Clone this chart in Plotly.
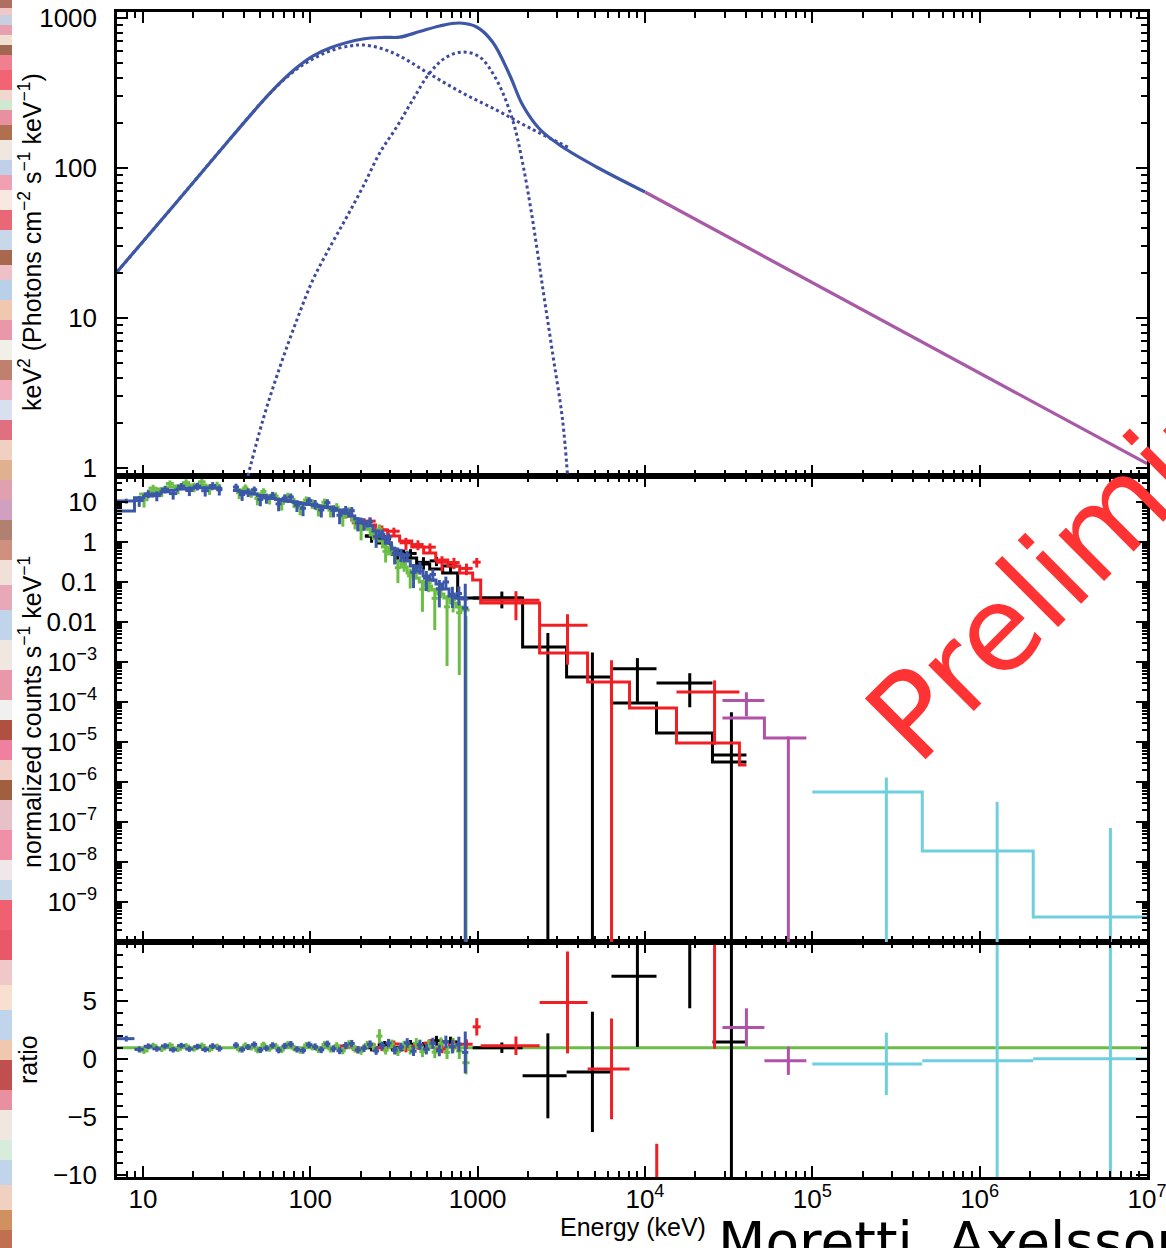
import plotly.graph_objects as go

FONT = "Liberation Sans, Arial, Helvetica, sans-serif"

# ---------------- Panel 1: unfolded model, keV^2 N(E) ----------------
TOTAL_E = [7, 14.5, 33.1, 52.1, 65.8, 83.1, 103.5, 131, 206, 279, 342, 451, 593, 781, 987, 1229, 1554, 1857, 2346, 3218, 5136, 10000]
TOTAL_F = [20.3, 52.5, 156, 280, 369, 468, 558, 631, 724, 743, 745, 812, 885, 926, 871, 692, 417, 263, 182, 138, 101.6, 69.2]
TAIL_E = [10000, 1.0e7]
TAIL_F = [69.2, 1.07]
BAND_E = [7, 14.5, 33.1, 52.1, 65.8, 83.1, 103.5, 131, 172, 206, 260, 342, 517, 814, 1299, 2045, 3544]
BAND_F = [20.3, 52.5, 156, 280, 366, 457, 533, 603, 651, 661, 631, 558, 423, 316, 243, 185, 136]
BB_E = [42.4, 52.1, 65.8, 83.1, 103.5, 131, 165, 206, 260, 328.6, 409, 517, 653, 814, 1028, 1299, 1619, 1857, 2131, 2445, 2805, 3218, 3447]
BB_F = [0.885, 2.09, 4.71, 9.70, 17.9, 29.7, 47.1, 74.7, 126, 188, 284, 430, 550, 593, 550, 386, 209, 108, 45.0, 16.1, 5.84, 2.09, 0.885]

# ---------------- Detector data (bin edges keV, model counts, data/model ratio, ratio error) -------------
# NaI (blue)
BLUE_EDGES_A = [7.0, 8.9, 10.1, 11.4, 12.8, 14.3, 16.0, 17.9, 20.0, 22.3, 24.8, 27.4, 29.8]
BLUE_MODEL_A = [5.96, 12.8, 14.2, 16.0, 18.0, 19.8, 21.0, 22.0, 22.6, 22.8, 22.6, 22.0]
BLUE_RATIO_A = [1.78, 0.85, 1.12, 0.90, 1.15, 0.82, 1.18, 0.88, 1.10, 0.84, 1.14, 0.92]
BLUE_RERR_A = [0.25, 0.26, 0.25, 0.25, 0.24, 0.24, 0.24, 0.24, 0.24, 0.24, 0.25, 0.26]
BLUE_EDGES_B = [34.5, 37.5, 40.8, 44.3, 48.2, 52.4, 57.0, 62.0, 67.4, 73.3, 79.7, 86.7, 94.3, 102.5, 111.5,
                121.3, 131.9, 143.4, 156, 169.6, 184.4, 200.5, 218, 237, 258, 281, 306, 333, 363, 396, 432,
                472, 516, 564, 617, 675, 738, 807, 880]
BLUE_MODEL_B = [19.4, 18.3, 16.8, 15.8, 14.5, 13.3, 12.2, 11.5, 10.9, 10.3, 9.7, 9.2, 8.66, 8.18, 7.72,
                7.29, 6.88, 6.31, 5.31, 4.47, 3.76, 3.07, 2.51, 1.88, 1.33, 0.944, 0.668, 0.473, 0.335, 0.251,
                0.188, 0.141, 0.112, 0.089, 0.0668, 0.0447, 0.0398, 0.0376]
BLUE_RATIO_B = [1.22, 0.84, 1.05, 1.28, 0.80, 0.95, 1.20, 0.78, 1.15, 1.30, 0.86, 0.76, 1.25, 1.08, 0.82,
                1.32, 0.90, 0.74, 1.20, 1.36, 0.80, 0.95, 1.30, 0.72, 1.18, 1.40, 0.78, 1.05, 1.42, 0.70,
                1.25, 0.88, 1.38, 0.76, 1.50, 1.10, 1.30, 0.60]
BLUE_RERR_B = [0.26, 0.26, 0.26, 0.26, 0.26, 0.27, 0.27, 0.27, 0.27, 0.28, 0.28, 0.28, 0.28, 0.29, 0.29,
               0.29, 0.30, 0.30, 0.30, 0.31, 0.31, 0.32, 0.33, 0.34, 0.35, 0.36, 0.37, 0.38, 0.40, 0.42,
               0.44, 0.46, 0.48, 0.50, 0.54, 0.60, 0.65, 1.80]
# NaI (green)
GREEN_EDGES_A = [9.5, 10.8, 12.2, 13.7, 15.3, 17.1, 19.1, 21.3, 23.7, 26.3, 29.2]
GREEN_MODEL_A = [15.8, 18.8, 21.1, 23.7, 25.1, 26.6, 26.6, 26.6, 25.1, 23.7]
GREEN_RATIO_A = [0.72, 1.18, 0.88, 1.22, 0.86, 1.15, 0.90, 1.20, 0.84, 1.10]
GREEN_RERR_A = [0.26, 0.25, 0.25, 0.24, 0.24, 0.24, 0.24, 0.24, 0.24, 0.25]
GREEN_EDGES_B = [36.0, 39.2, 42.6, 46.3, 50.3, 54.7, 59.5, 64.7, 70.4, 76.6, 83.3, 90.6, 98.5, 107.1, 116.5,
                 126.7, 137.8, 149.9, 163, 177.3, 192.8, 209.7, 228, 248, 270, 294, 320, 348, 379, 412, 448,
                 488, 531, 578, 629, 684, 744, 810, 895]
GREEN_MODEL_B = [20.0, 18.8, 16.8, 15.8, 14.5, 13.3, 12.2, 11.5, 10.9, 10.3, 9.7, 9.2, 8.66, 8.18, 7.72,
                 7.08, 6.31, 5.62, 4.47, 3.55, 2.82, 2.11, 1.50, 1.06, 0.75, 0.50, 0.335, 0.237, 0.168, 0.126,
                 0.100, 0.0794, 0.0631, 0.050, 0.0398, 0.0299, 0.0237, 0.020]
GREEN_RATIO_B = [0.85, 1.20, 1.02, 0.78, 1.26, 0.92, 1.15, 0.80, 1.30, 0.96, 0.76, 1.22, 1.06, 0.82, 1.28,
                 0.88, 1.18, 0.74, 1.34, 0.90, 0.72, 1.25, 1.10, 2.00, 0.78, 1.32, 0.68, 1.18, 0.85, 1.38,
                 0.66, 1.20, 0.62, 1.34, 0.60, 1.22, 0.72, -0.30]
GREEN_RERR_B = [0.26, 0.26, 0.26, 0.26, 0.26, 0.27, 0.27, 0.27, 0.27, 0.28, 0.28, 0.28, 0.29, 0.29, 0.29,
                0.30, 0.30, 0.31, 0.31, 0.32, 0.33, 0.34, 0.35, 0.60, 0.37, 0.38, 0.40, 0.42, 0.44, 0.46,
                0.48, 0.50, 0.52, 0.55, 0.58, 0.64, 0.70, 1.00]
# BGO (black)
BLACK_EDGES = [212, 253, 303, 362, 432, 517, 618, 760, 934, 1857, 3401, 6305, 11720, 25310, 40390]
BLACK_MODEL = [1.41, 0.944, 0.596, 0.398, 0.282, 0.211, 0.168, 0.0398, 0.0398, 2.37e-3, 4.22e-4, 9.44e-5, 1.68e-5, 3.16e-6]
BLACK_RATIO = [1.0, 1.25, 0.82, 1.3, 1.1, 1.6, 1.5, None, 1.0, -1.43, -1.09, 7.17, 17.8, 1.5]
BLACK_RERR = [0.32, 0.32, 0.33, 0.36, 0.38, 0.42, 0.45, None, 0.45, 3.67, 5.2, 6.1, 13.4, 16.0]
# BGO (red)
RED_EDGES = [150, 177, 209, 246, 290, 342, 404, 476, 562, 663, 781, 934, 1043, 2346, 4540, 8086, 15430, 36680, 40390]
RED_MODEL = [4.47, 3.55, 2.66, 2.0, 1.41, 1.06, 0.75, 0.531, 0.355, 0.251, 0.168, 0.112, 0.0299, 1.68e-3,
             3.16e-4, 7.08e-5, 9.44e-6, 2.66e-6]
RED_RATIO = [1.15, 0.85, 1.25, 1.0, 1.32, 0.9, 1.15, 1.4, 0.88, 1.22, 1.3, 2.8, 1.17, 4.91, -0.83, -15.0, 18.8, None]
RED_RERR = [0.28, 0.28, 0.29, 0.29, 0.30, 0.30, 0.32, 0.34, 0.36, 0.38, 0.42, 0.75, 0.8, 4.4, 4.35, 7.7, 17.9, None]
# LLE (magenta)
MAG_EDGES = [29040, 51730, 92140]
MAG_MODEL = [3.98e-5, 1.26e-5]
MAG_RATIO = [2.75, -0.13]
MAG_RERR = [1.65, 1.22]
# LAT (cyan)
CYAN_EDGES = [1.0e5, 4.54e5, 2.09e6, 1.0e7]
CYAN_MODEL = [5.62e-7, 1.88e-8, 4.22e-10]
CYAN_RATIO = [-0.4, -0.13, 0.04]
CYAN_RERR = [2.7, 16.9, 168.0]

# ---------------- axis labels ----------------
X_TICKVALS = [10, 100, 1000, 1e4, 1e5, 1e6, 1e7]
X_TICKTEXT = ["10", "100", "1000", "10<sup>4</sup>", "10<sup>5</sup>", "10<sup>6</sup>", "10<sup>7</sup>"]
Y1_TICKVALS = [1, 10, 100, 1000]
Y1_TICKTEXT = ["1", "10", "100", "1000"]
Y2_TICKVALS = [10, 1, 0.1, 0.01, 1e-3, 1e-4, 1e-5, 1e-6, 1e-7, 1e-8, 1e-9]
Y2_TICKTEXT = ["10", "1", "0.1", "0.01", "10<sup>−3</sup>", "10<sup>−4</sup>", "10<sup>−5</sup>",
               "10<sup>−6</sup>", "10<sup>−7</sup>", "10<sup>−8</sup>", "10<sup>−9</sup>"]
Y3_TICKVALS = [-10, -5, 0, 5]
Y3_TICKTEXT = ["−10", "−5", "0", "5"]

# decorative colour strip along the left edge of the image (top pixel row of each band, colour)
STRIP_TOP = [0, 8, 15, 25, 35, 45, 55, 70, 90, 100, 110, 125, 140, 160, 175, 190, 210, 230, 250, 265,
             280, 300, 320, 340, 360, 380, 400, 420, 440, 460, 480, 500, 520, 540, 560, 585, 610, 640,
             670, 700, 720, 740, 760, 780, 800, 830, 860, 880, 900, 930, 960, 985, 1010, 1040, 1060,
             1090, 1110, 1140, 1160, 1185, 1210, 1230]
STRIP_COLOR = ["#b07060", "#f0c8c8", "#c8d0e0", "#e8a0b0", "#f0e0d0", "#a06850", "#f08090", "#f26474",
               "#f0d8d0", "#d0e8d0", "#e890a0", "#b07050", "#f0e8e0", "#c0d0e8", "#f0a0b0", "#f8e8e0",
               "#e86878", "#c8d8e8", "#a86850", "#f0c0c8", "#b8d0e8", "#f0c8b0", "#e898a8", "#f0f0e8",
               "#c08070", "#f0b0c0", "#d8e0f0", "#e07080", "#f0d0c0", "#e0b090", "#e0a0b0", "#d0a0c0",
               "#b08070", "#d09080", "#f0e0d8", "#e8a8b8", "#c0d4ec", "#f0e8e0", "#e898a8", "#f0f0f0",
               "#b05040", "#f080a0", "#f0d0c8", "#a06040", "#e8c0c8", "#f090a8", "#f0e8e8", "#c8d8e8",
               "#f06070", "#e85868", "#f0c8c8", "#f8e0d0", "#c0d4ec", "#f0c8b0", "#c05050", "#e890a0",
               "#f0e8e0", "#d8ecdc", "#c0d4ec", "#f0d0c0", "#d09060", "#c07050"]

C_BLACK = "#000000"
C_RED = "#ef1f24"
C_GREEN = "#6cbd45"
C_BLUE = "#3b58a8"
C_CYAN = "#6fcfdd"
C_MAG = "#b052a8"
C_MODEL = "#3d57a6"
C_DOT = "#3f4a9a"
C_TAIL = "#a95aa7"

LW = 3


def step_xy(edges, model):
    return list(edges), list(model) + [model[-1]]


def cross_log(edges, model, ratio, rerr, floor=1e-14):
    xs, ys = [], []
    for i in range(len(model)):
        r = ratio[i]
        if r is None:
            continue
        lo, hi = edges[i], edges[i + 1]
        c = 0.5 * (lo + hi)
        d = model[i] * r
        e = model[i] * rerr[i]
        if d > 0:
            xs += [lo, hi, None]
            ys += [d, d, None]
        if d + e > 0:
            xs += [c, c, None]
            ys += [max(d - e, floor), d + e, None]
    return xs, ys


def cross_ratio(edges, ratio, rerr):
    xs, ys = [], []
    for i in range(len(ratio)):
        r = ratio[i]
        if r is None:
            continue
        lo, hi = edges[i], edges[i + 1]
        c = 0.5 * (lo + hi)
        xs += [lo, hi, None, c, c, None]
        ys += [r, r, None, r - rerr[i], r + rerr[i], None]
    return xs, ys


fig = go.Figure()


def add(x, y, color, xa, ya, width=LW, shape="linear", dash=None, smoothing=None):
    line = dict(color=color, width=width, shape=shape)
    if dash:
        line["dash"] = dash
    if smoothing is not None:
        line["smoothing"] = smoothing
    fig.add_trace(go.Scatter(x=x, y=y, mode="lines", line=line, xaxis=xa, yaxis=ya,
                             hoverinfo="skip", showlegend=False, connectgaps=False))


# ---- Panel 1 ----
add(BB_E, BB_F, C_DOT, "x3", "y3", width=3, shape="spline", dash="3px,3px", smoothing=1.0)
add(BAND_E, BAND_F, C_DOT, "x3", "y3", width=3, shape="spline", dash="3px,3px", smoothing=1.0)
add(TOTAL_E, TOTAL_F, C_MODEL, "x3", "y3", width=3.2, shape="spline", smoothing=1.0)
add(TAIL_E, TAIL_F, C_TAIL, "x3", "y3", width=3.2)

# ---- Panels 2 and 3 ----
groups = [
    ([(BLACK_EDGES, BLACK_MODEL, BLACK_RATIO, BLACK_RERR)], C_BLACK),
    ([(RED_EDGES, RED_MODEL, RED_RATIO, RED_RERR)], C_RED),
    ([(GREEN_EDGES_A, GREEN_MODEL_A, GREEN_RATIO_A, GREEN_RERR_A),
      (GREEN_EDGES_B, GREEN_MODEL_B, GREEN_RATIO_B, GREEN_RERR_B)], C_GREEN),
    ([(BLUE_EDGES_A, BLUE_MODEL_A, BLUE_RATIO_A, BLUE_RERR_A),
      (BLUE_EDGES_B, BLUE_MODEL_B, BLUE_RATIO_B, BLUE_RERR_B)], C_BLUE),
    ([(CYAN_EDGES, CYAN_MODEL, CYAN_RATIO, CYAN_RERR)], C_CYAN),
    ([(MAG_EDGES, MAG_MODEL, MAG_RATIO, MAG_RERR)], C_MAG),
]

# ratio = 1 reference line
add([X_TICKVALS[0] * 0.5, X_TICKVALS[-1] * 2], [1, 1], C_GREEN, "x", "y", width=3)

for parts, color in groups:
    sx, sy, cx, cy, rx, ry = [], [], [], [], [], []
    for edges, model, ratio, rerr in parts:
        a, b = step_xy(edges, model)
        sx += a + [None]
        sy += b + [None]
        a, b = cross_log(edges, model, ratio, rerr)
        cx += a
        cy += b
        a, b = cross_ratio(edges, ratio, rerr)
        rx += a
        ry += b
    add(sx, sy, color, "x2", "y2", shape="hv")
    add(cx, cy, color, "x2", "y2")
    add(rx, ry, color, "x", "y")

# ---------------- axes ----------------
X_MINOR = [m * 10 ** k for k in range(0, 7) for m in range(2, 10)]
Y1_MINOR = [m * 10 ** k for k in range(0, 3) for m in range(2, 10)]
Y2_MINOR = [m * 10.0 ** k for k in range(-10, 2) for m in range(2, 10)]

tickfont = dict(family=FONT, size=26, color="black")
common = dict(showline=True, linewidth=2.5, linecolor="black", mirror="ticks", ticks="inside",
              ticklen=11, tickwidth=2, tickcolor="black", showgrid=False, zeroline=False,
              tickfont=tickfont, automargin=False)

xlog = dict(type="log", range=[0.845, 7.0], tickmode="array", tickvals=X_TICKVALS, ticktext=X_TICKTEXT,
            minor=dict(ticks="inside", ticklen=6, tickwidth=2, tickcolor="black", tickmode="array",
                       tickvals=X_MINOR), **common)

D3 = 235 / 1165
D2 = 701 / 1165

fig.update_layout(
    width=1166, height=1248,
    margin=dict(l=117, r=19, t=12, b=71, autoexpand=False),
    paper_bgcolor="white", plot_bgcolor="white",
    showlegend=False,
    xaxis=dict(anchor="y", domain=[0, 1], ticklabelstandoff=-3, ticklabeloverflow="allow", **xlog),
    xaxis2=dict(anchor="y2", domain=[0, 1], matches="x", showticklabels=False, **xlog),
    xaxis3=dict(anchor="y3", domain=[0, 1], matches="x", showticklabels=False, **xlog),
    yaxis=dict(anchor="x", domain=[0, D3], range=[-10.17, 10.13], tickmode="array",
               tickvals=Y3_TICKVALS, ticktext=Y3_TICKTEXT, ticklabelstandoff=12,
               minor=dict(ticks="inside", ticklen=6, tickwidth=2, tickcolor="black", dtick=1),
               **common),
    yaxis2=dict(anchor="x2", domain=[D3, D2], type="log", range=[-10, 1.65], tickmode="array",
                tickvals=Y2_TICKVALS, ticktext=Y2_TICKTEXT, ticklabelstandoff=12,
                minor=dict(ticks="inside", ticklen=5, tickwidth=2, tickcolor="black", tickmode="array",
                           tickvals=Y2_MINOR), **common),
    yaxis3=dict(anchor="x3", domain=[D2, 1], type="log", range=[-0.053, 3.04], tickmode="array",
                tickvals=Y1_TICKVALS, ticktext=Y1_TICKTEXT, ticklabelstandoff=12,
                minor=dict(ticks="inside", ticklen=6, tickwidth=2, tickcolor="black", tickmode="array",
                           tickvals=Y1_MINOR), **common),
)


def px_x(px):
    return (px - 117) / 1030


def px_y(py):
    return (1177 - py) / 1165


# left colour strip
bottoms = STRIP_TOP[1:] + [1248]
for top, bot, col in zip(STRIP_TOP, bottoms, STRIP_COLOR):
    fig.add_shape(type="rect", xref="paper", yref="paper", x0=px_x(0), x1=px_x(12),
                  y0=px_y(bot), y1=px_y(top), fillcolor=col, line=dict(width=0), layer="below")

title_font = dict(family=FONT, size=25, color="black")
ann = [
    dict(text="keV<sup>2</sup> (Photons cm<sup>−2</sup> s<sup>−1</sup> keV<sup>−1</sup>)",
         x=px_x(30), y=px_y(242), textangle=-90, font=title_font),
    dict(text="normalized counts s<sup>−1</sup> keV<sup>−1</sup>",
         x=px_x(30), y=px_y(712), textangle=-90, font=title_font),
    dict(text="ratio", x=px_x(28), y=px_y(1060), textangle=-90, font=title_font),
    dict(text="Energy (keV)", x=px_x(633), y=px_y(1227), font=title_font),
    dict(text="Moretti, Axelsson", x=px_x(716), y=px_y(1208), xanchor="left", yanchor="top",
         font=dict(family="DejaVu Sans", size=55, color="black")),
    dict(text="Preliminary", x=px_x(1124), y=px_y(503), textangle=-45,
         font=dict(family="DejaVu Sans", size=118, color="#ff3333")),
]
for a in ann:
    a.setdefault("xanchor", "center")
    a.setdefault("yanchor", "middle")
    fig.add_annotation(xref="paper", yref="paper", showarrow=False, **a)

fig.write_html("out.html", config={"displayModeBar": False},
               post_script="document.body.style.margin='0px';document.body.style.padding='0px';"
                           "document.body.style.overflow='hidden';")
